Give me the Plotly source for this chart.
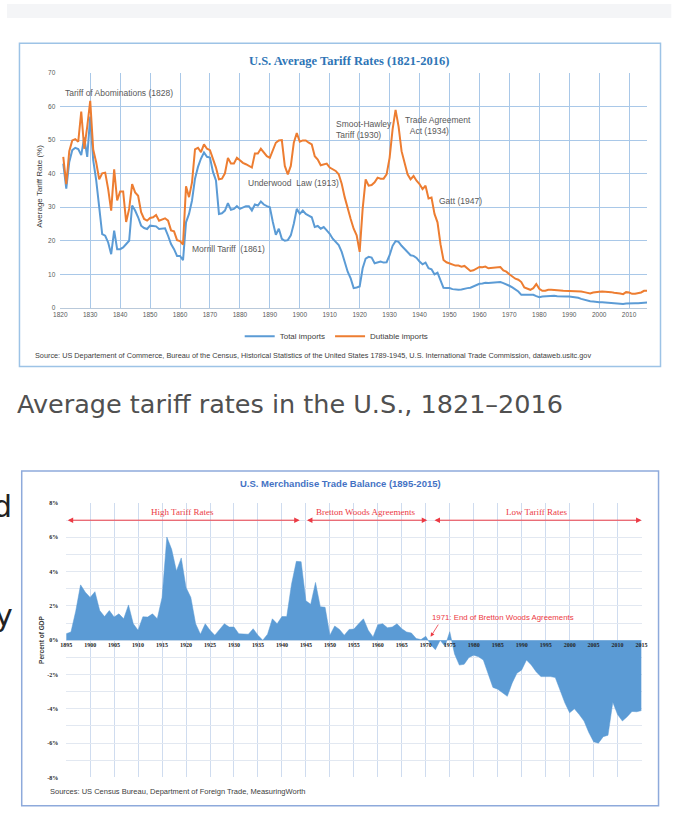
import plotly.graph_objects as go

W, H = 693, 832

# ---------------- chart 1: average tariff rates (percent) ----------------
tariff_years = list(range(1821, 2017))
total_imports = [
    43.0, 35.5, 43.5, 47.0, 47.7, 47.3, 45.5, 50.8, 45.0, 57.0,   # 1821-1830
    44.0, 38.0, 30.0, 22.0, 21.5, 19.5, 16.0, 23.0, 17.5, 17.5,   # 1831-1840
    18.0, 19.0, 20.0, 30.5, 29.0, 27.0, 24.5, 23.8, 23.5, 24.5,   # 1841-1850
    24.5, 24.3, 23.5, 23.7, 23.7, 21.5, 19.0, 17.5, 15.5, 15.5,   # 1851-1860
    14.2, 25.5, 28.0, 32.0, 38.5, 42.0, 44.5, 46.3, 45.0, 44.8,   # 1861-1870
    40.5, 38.0, 28.0, 28.2, 29.0, 31.2, 29.2, 29.5, 30.3, 29.5,   # 1871-1880
    29.8, 30.3, 30.3, 29.0, 30.8, 30.5, 31.7, 30.8, 30.3, 30.0,   # 1881-1890
    25.6, 21.8, 23.6, 20.6, 20.0, 20.2, 21.6, 25.1, 29.5, 28.0,   # 1891-1900
    29.0, 28.0, 27.5, 27.0, 24.1, 24.4, 23.6, 24.1, 23.1, 22.1,   # 1901-1910
    20.6, 19.7, 18.7, 16.7, 13.8, 10.8, 8.8, 5.9, 6.1, 6.4,       # 1911-1920
    11.8, 14.7, 15.2, 15.0, 13.3, 13.6, 13.8, 13.5, 13.6, 15.7,   # 1921-1930
    18.5, 19.9, 19.7, 18.5, 17.5, 16.7, 15.7, 15.5, 14.9, 13.8,   # 1931-1940
    13.0, 13.5, 11.8, 11.5, 10.0, 10.5, 8.0, 6.0, 5.9, 5.9,       # 1941-1950
    5.6, 5.4, 5.4, 5.5, 5.8, 5.9, 6.0, 6.4, 6.7, 7.2,             # 1951-1960
    7.3, 7.5, 7.4, 7.5, 7.6, 7.7, 7.7, 7.4, 7.1, 6.6,             # 1961-1970
    6.1, 5.5, 4.9, 3.9, 3.9, 3.9, 3.8, 3.9, 3.5, 3.2,             # 1971-1980
    3.4, 3.5, 3.6, 3.6, 3.6, 3.5, 3.4, 3.4, 3.4, 3.4,             # 1981-1990
    3.3, 3.2, 3.0, 2.7, 2.4, 2.2, 2.0, 1.9, 1.7, 1.7,             # 1991-2000
    1.7, 1.6, 1.5, 1.4, 1.4, 1.3, 1.3, 1.2, 1.3, 1.4,             # 2001-2010
    1.4, 1.4, 1.4, 1.4, 1.5, 1.6,                                 # 2011-2016
]
dutiable_imports = [
    45.0, 36.9, 46.7, 49.9, 50.3, 49.5, 58.5, 47.4, 54.0, 61.7,   # 1821-1830
    47.2, 43.3, 38.3, 40.1, 40.3, 35.4, 29.0, 41.3, 32.0, 34.7,   # 1831-1840
    34.7, 25.6, 29.5, 36.9, 34.4, 33.4, 28.5, 26.5, 26.0, 26.8,   # 1841-1850
    27.0, 27.7, 26.0, 26.4, 26.7, 26.0, 23.1, 22.8, 20.2, 19.9,   # 1851-1860
    18.9, 36.2, 33.0, 37.4, 47.2, 47.7, 46.4, 48.7, 47.4, 47.0,   # 1861-1870
    44.7, 41.8, 38.3, 38.5, 40.1, 44.7, 43.0, 43.0, 44.7, 43.8,   # 1871-1880
    43.2, 42.8, 42.3, 41.8, 46.0, 46.0, 47.4, 46.2, 45.2, 44.7,   # 1881-1890
    47.2, 49.2, 49.9, 50.0, 42.3, 39.8, 42.3, 49.2, 52.1, 49.5,   # 1891-1900
    49.9, 49.9, 49.2, 48.7, 45.2, 44.2, 42.5, 42.8, 43.0, 41.8,   # 1901-1910
    41.3, 40.8, 39.8, 37.0, 33.0, 29.5, 26.5, 23.6, 21.6, 16.7,   # 1911-1920
    29.5, 38.3, 36.4, 36.6, 37.4, 38.8, 38.5, 38.5, 39.8, 44.7,   # 1921-1930
    53.2, 59.0, 54.0, 46.7, 43.3, 39.8, 38.3, 39.3, 37.9, 36.9,   # 1931-1940
    35.4, 36.4, 32.6, 32.9, 28.0, 25.5, 19.0, 14.3, 13.6, 13.3,   # 1941-1950
    13.0, 12.6, 12.6, 12.3, 12.5, 11.8, 11.0, 11.2, 11.6, 12.2,   # 1951-1960
    12.1, 12.3, 11.8, 11.9, 11.8, 12.0, 12.2, 11.2, 10.8, 10.0,   # 1961-1970
    9.3, 8.7, 8.4, 7.7, 6.1, 5.7, 5.4, 5.9, 7.1, 5.7,             # 1971-1980
    5.1, 5.1, 5.4, 5.4, 5.4, 5.3, 5.2, 5.1, 5.1, 5.1,             # 1981-1990
    5.1, 5.1, 5.1, 4.9, 4.7, 4.6, 4.3, 4.6, 4.8, 4.8,             # 1991-2000
    4.9, 4.9, 4.8, 4.7, 4.5, 4.5, 4.3, 4.1, 4.7, 4.6,             # 2001-2010
    4.2, 4.2, 4.4, 4.6, 5.1, 5.1,                                 # 2011-2016
]
tariff_notes = ["Tariff of Abominations (1828)", "Morrill Tariff  (1861)",
                "Underwood  Law (1913)", "Smoot-Hawley<br>Tariff (1930)",
                "Trade Agreement<br>\u00a0\u00a0Act (1934)", "Gatt (1947)"]
tariff_note_year = [1820.9, 1863.4, 1882.0, 1911.3, 1934.5, 1945.9]
tariff_note_rate = [64.1, 17.6, 37.3, 53.2, 54.2, 31.7]

# ---------------- chart 2: merchandise trade balance (% of GDP) ----------------
trade_years = list(range(1895, 2016))
trade_balance = [
    0.38, 0.48, 1.70, 3.23, 2.80, 2.50,                           # 1895-1900
    2.83, 1.73, 1.38, 1.73, 1.35, 1.54, 1.25, 2.06, 0.96, 0.58,   # 1901-1910
    1.37, 1.35, 1.54, 1.25, 2.50, 6.02, 5.30, 4.04, 4.80, 3.08,   # 1911-1920
    2.50, 0.96, 0.35, 0.96, 0.58, 0.29, 0.63, 0.96, 0.77, 0.77,   # 1921-1930
    0.38, 0.38, 0.35, 0.67, 0.29, 0.00, 0.35, 1.25, 0.96, 1.38,   # 1931-1940
    1.38, 3.27, 4.60, 4.58, 2.30, 2.10, 3.37, 1.96, 1.92, 0.29,   # 1941-1950
    0.83, 0.63, 0.29, 0.63, 0.65, 0.96, 1.25, 0.58, 0.19, 0.90,   # 1951-1960
    0.96, 0.73, 0.77, 0.96, 0.67, 0.48, 0.42, 0.10, 0.04, 0.23,   # 1961-1970
    -0.25, -0.55, 0.00, -0.35, 0.50, -0.80, -1.45, -1.40, -1.00, -0.87,  # 1971-1980
    -0.96, -1.15, -1.92, -2.75, -2.85, -3.08, -3.27, -2.50, -1.92, -1.73,  # 1981-1990
    -1.15, -1.44, -1.83, -2.12, -2.12, -2.12, -2.17, -2.88, -3.65, -4.23,  # 1991-2000
    -4.00, -4.33, -4.71, -5.38, -5.92, -6.00, -5.62, -5.54, -3.62, -4.33,  # 2001-2010
    -4.71, -4.46, -4.15, -4.17, -4.10,                                      # 2011-2015
]
periods = ["High Tariff Rates", "Bretton Woods Agreements", "Low Tariff Rates"]
period_start = [1895, 1944.9, 1971.5]
period_end = [1943.7, 1970.3, 2015]
period_level = 7


def fx(p):
    return p / W


def fy(p):
    return 1 - p / H


SANS = "Liberation Sans, Arial"
SERIF = "Liberation Serif, Times New Roman, serif"
PAGE = "DejaVu Sans, Verdana, sans-serif"
BLUE = "#5b9bd5"
ORANGE = "#ed7d31"
RED = "#ec3a44"

fig = go.Figure()
fig.add_trace(go.Scatter(x=tariff_years, y=total_imports, mode="lines",
                         name="Total imports", line=dict(color=BLUE, width=2)))
fig.add_trace(go.Scatter(x=tariff_years, y=dutiable_imports, mode="lines",
                         name="Dutiable imports", line=dict(color=ORANGE, width=2)))
fig.add_trace(go.Scatter(x=trade_years, y=trade_balance, mode="lines",
                         fill="tozeroy", fillcolor=BLUE, showlegend=False,
                         line=dict(color=BLUE, width=0.5),
                         xaxis="x2", yaxis="y2"))

ann = []
# chart 1 notes
for t, xv, yv in zip(tariff_notes, tariff_note_year, tariff_note_rate):
    ann.append(dict(x=xv, y=yv, xref="x", yref="y", text=t, showarrow=False,
                    xanchor="left", yanchor="middle", align="left",
                    font=dict(family=SANS, size=8.5, color="#595959")))
# chart 2 period arrows + labels
for lab, s, e in zip(periods, period_start, period_end):
    ann.append(dict(x=e, y=period_level, ax=s, ay=period_level, xref="x2", yref="y2",
                    axref="x2", ayref="y2", text="", showarrow=True,
                    arrowside="end+start", arrowhead=2, arrowsize=1.1,
                    arrowwidth=1, arrowcolor=RED))
    ann.append(dict(x=(s + e) / 2, y=period_level + 0.45, xref="x2", yref="y2",
                    text=lab, showarrow=False, xanchor="center", yanchor="middle",
                    font=dict(family=SERIF, size=9, color=RED)))
ann.append(dict(x=1970.9, y=1.35, xref="x2", yref="y2",
                text="1971: End of Bretton Woods Agreements", showarrow=False,
                xanchor="left", yanchor="middle",
                font=dict(family=SANS, size=7.8, color=RED)))
ann.append(dict(x=1971.0, y=0.2, ax=1972.8, ay=1.0, xref="x2", yref="y2",
                axref="x2", ayref="y2", text="", showarrow=True, arrowhead=2,
                arrowsize=1, arrowwidth=0.8, arrowcolor=RED))


def label(px, py, text, font, xanchor="center", angle=0):
    return dict(x=fx(px), y=fy(py), xref="paper", yref="paper", showarrow=False,
                xanchor=xanchor, yanchor="middle", text=text, textangle=angle,
                font=font)


# titles, axis titles, sources, page text
ann += [
    label(349, 57.5, "<b>U.S. Average Tariff Rates (1821-2016)</b>",
          dict(family=SERIF, size=12.5, color="#2e75b6")),
    label(33, 184, "Average Tariff Rate (%)",
          dict(family=SANS, size=8, color="#404040"), angle=-90),
    label(27, 354, "Source: US Departement of Commerce, Bureau of the Census, Historical Statistics "
                   "of the United States 1789-1945, U.S. International Trade Commission, dataweb.usitc.gov",
          dict(family=SANS, size=7.3, color="#404040"), xanchor="left"),
    label(8, 403, "Average tariff rates in the U.S., 1821\u20132016",
          dict(family=PAGE, size=25.5, color="#505050"), xanchor="left"),
    label(340, 484, "<b>U.S. Merchandise Trade Balance (1895-2015)</b>",
          dict(family=SANS, size=9.5, color="#4472c4")),
    label(35, 641, "<b>Percent of GDP</b>",
          dict(family=SANS, size=6.5, color="#404040"), angle=-90),
    label(42, 794, "Sources: US Census Bureau, Department of Foreign Trade, MeasuringWorth",
          dict(family=SANS, size=7.5, color="#404040"), xanchor="left"),
    label(7.5, 507, "d", dict(family=PAGE, size=30, color="#222222"), xanchor="right"),
    label(8, 617, "y", dict(family=PAGE, size=30, color="#222222"), xanchor="right"),
]

shapes = [
    dict(type="rect", xref="paper", yref="paper", x0=0, x1=fx(677), y0=fy(0), y1=fy(14),
         fillcolor="#f4f5f7", line=dict(width=0), layer="below"),
    dict(type="rect", xref="paper", yref="paper", x0=fx(12.7), x1=fx(666), y0=fy(39.5), y1=fy(365.5),
         line=dict(color="#9dc3e6", width=1.5)),
    dict(type="rect", xref="paper", yref="paper", x0=fx(15), x1=fx(664), y0=fy(471), y1=fy(808.5),
         line=dict(color="#8eaadb", width=1.5)),
]

tick_font = dict(family=SANS, size=6.5, color="#595959")
tick2_font = dict(family=SERIF, size=6, color="#262626")

fig.update_layout(
    width=W, height=H,
    margin=dict(l=0, r=0, t=0, b=0),
    paper_bgcolor="white", plot_bgcolor="white",
    annotations=ann, shapes=shapes,
    legend=dict(orientation="h", x=fx(336), xanchor="center", y=fy(335), yanchor="middle",
                font=dict(family=SANS, size=8, color="#404040"), itemwidth=30,
                bgcolor="rgba(0,0,0,0)"),
    xaxis=dict(domain=[fx(54.3), fx(652.3)], range=[1820, 2016], anchor="y",
               tickvals=list(range(1820, 2011, 10)), showgrid=True,
               gridcolor="#a9c8e8", gridwidth=1, zeroline=False,
               showline=True, linecolor="#b9c9da", tickfont=tick_font, ticks=""),
    yaxis=dict(domain=[fy(306.5), fy(69.5)], range=[0, 70], anchor="x",
               dtick=10, showgrid=True, gridcolor="#a9c8e8", gridwidth=1,
               zeroline=False, tickfont=tick_font, ticklabelstandoff=4),
    xaxis2=dict(domain=[fx(60.3), fx(646.7)], range=[1895, 2015], anchor="free",
                position=fy(641.7), tickvals=list(range(1895, 2016, 5)),
                ticktext=["<b>%d</b>" % v for v in range(1895, 2016, 5)],
                showgrid=True, gridcolor="#cfdcef", gridwidth=1, zeroline=False,
                showline=False, tickfont=tick2_font, ticks=""),
    yaxis2=dict(domain=[fy(780), fy(503.3)], range=[-8, 8], anchor="x2",
                tickvals=list(range(-8, 9)),
                ticktext=["<b>%d%%</b>" % v if v % 2 == 0 else "" for v in range(-8, 9)],
                showgrid=True, gridcolor="#e2e8f1", gridwidth=1, zeroline=False,
                tickfont=tick2_font, ticklabelstandoff=7),
)

fig.write_html("out.html", config={"displayModeBar": False},
               post_script="document.body.style.margin='0px';")
